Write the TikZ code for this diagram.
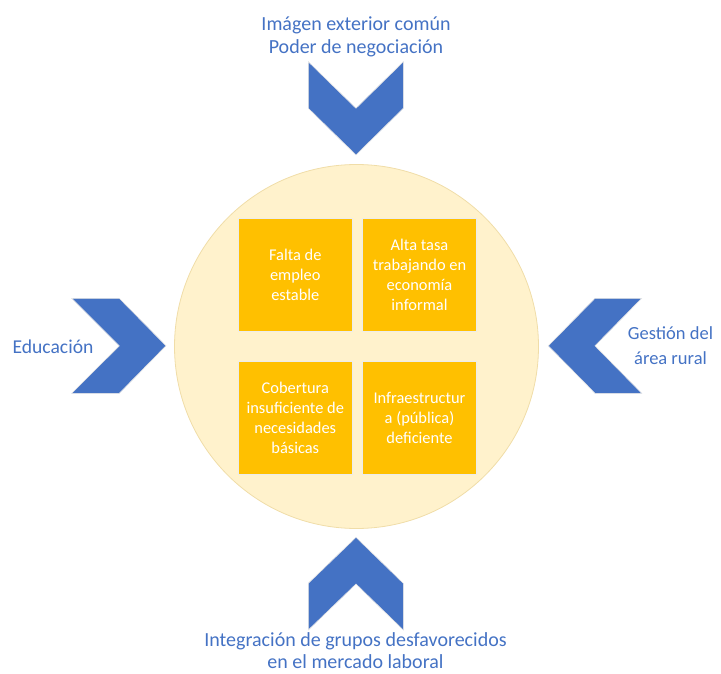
\documentclass[tikz,border=0pt]{standalone}
\usepackage{fontspec}
\setmainfont{Carlito}
\definecolor{chevblue}{HTML}{4472C4}
\definecolor{gold}{HTML}{FFC000}
\definecolor{cream}{HTML}{FFF2CC}
\definecolor{creamedge}{HTML}{F0DDA8}
\begin{document}
\begin{tikzpicture}[x=1pt,y=-1pt,
  chev/.style={fill=chevblue,draw=white!80!gray,line width=0.6pt,line join=miter},
  box/.style={fill=gold,draw=white!85!gray,line width=0.8pt,minimum width=114pt,minimum height=113pt,inner sep=0pt,align=center,text=white,font=\fontsize{16.4}{20}\selectfont},
  lbl/.style={text=chevblue,align=center,inner sep=0pt,font=\fontsize{20}{23}\selectfont}]
\useasboundingbox (0,0) rectangle (721,674);
% circle
\node[circle,fill=cream,draw=creamedge,line width=0.8pt,minimum size=364pt,inner sep=0pt] (hub) at (356.5,346.5) {};
% boxes
\node[box] (b1) at (295.3,275) {Falta de\\empleo\\estable};
\node[box] (b2) at (419.5,275) {Alta tasa\\trabajando en\\economía\\informal};
\node[box] (b3) at (295.3,417.5) {Cobertura\\insuficiente de\\necesidades\\básicas};
\node[box] (b4) at (419.5,417.5) {Infraestructur\\a (pública)\\deficiente};
% chevrons
\draw[chev] (308.3,61.7) -- (356,108.3) -- (403.3,61.7) -- (403.3,108.3) -- (356,155) -- (308.3,108.3) -- cycle;
\draw[chev] (308.3,583.3) -- (356,537.3) -- (403.3,583.3) -- (403.3,630) -- (356,584) -- (308.3,630) -- cycle;
\draw[chev] (71.7,298.3) -- (119.3,298.3) -- (166,345.8) -- (119.3,393.3) -- (71.7,393.3) -- (119.3,345.8) -- cycle;
\draw[chev] (641.7,298.3) -- (595,298.3) -- (548.3,345.8) -- (595,393.3) -- (641.7,393.3) -- (595,345.8) -- cycle;
% labels
\node[lbl] (top) at (356,36.5) {Imágen exterior común\\Poder de negociación};
\node[lbl,font=\fontsize{19.6}{23}\selectfont] (left) at (53,347) {Educación};
\node[lbl,font=\fontsize{18.5}{25}\selectfont] (right) at (670.5,345.5) {Gestión del\\área rural};
\node[lbl,font=\fontsize{20}{22}\selectfont] (bottom) at (355.5,651) {Integración de grupos desfavorecidos\\en el mercado laboral};
\end{tikzpicture}
\end{document}
